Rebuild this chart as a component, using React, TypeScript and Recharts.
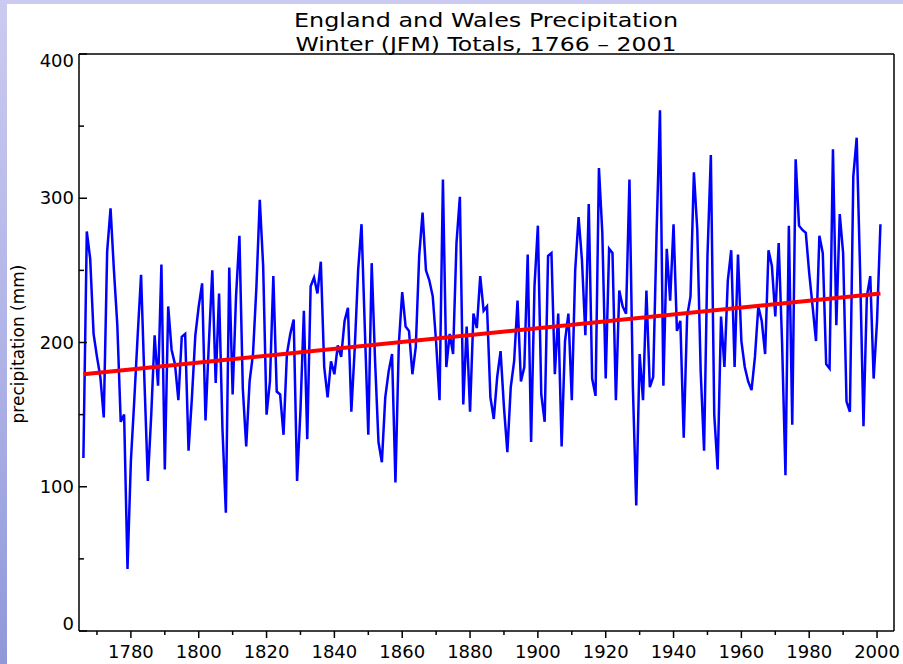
import React from "react";
import { LineChart, Line, XAxis, YAxis } from "recharts";

// England & Wales winter (JFM) precipitation totals, mm, 1766-2001
const firstYear = 1766;
const precip = [
  120, 277, 258, 206, 190, 176, 148, 263, 293, 250, // 1766
  212, 145, 150, 43, 118, 160, 205, 247, 173, 104, // 1776
  150, 205, 170, 254, 112, 225, 195, 185, 160, 204, // 1786
  206, 125, 162, 205, 225, 241, 146, 200, 250, 172, // 1796
  234, 140, 82, 252, 164, 232, 274, 168, 128, 173, // 1806
  192, 238, 299, 253, 150, 173, 246, 166, 164, 136, // 1816
  192, 206, 216, 104, 153, 222, 133, 239, 245, 234, // 1826
  256, 183, 162, 187, 178, 198, 190, 215, 224, 152, // 1836
  196, 250, 282, 208, 136, 255, 187, 131, 117, 162, // 1846
  180, 192, 103, 199, 235, 211, 208, 178, 197, 260, // 1856
  290, 250, 243, 232, 200, 160, 313, 183, 206, 192, // 1866
  269, 301, 157, 211, 152, 220, 210, 246, 222, 225, // 1876
  162, 147, 176, 194, 155, 124, 169, 187, 229, 173, // 1886
  183, 261, 131, 239, 281, 164, 145, 260, 262, 178, // 1896
  220, 128, 201, 220, 160, 250, 287, 257, 205, 296, // 1906
  175, 163, 321, 276, 175, 265, 262, 160, 236, 225, // 1916
  220, 313, 170, 87, 192, 160, 236, 169, 176, 276, // 1926
  361, 170, 265, 229, 282, 208, 215, 134, 218, 232, // 1936
  318, 278, 180, 125, 260, 330, 150, 112, 218, 183, // 1946
  243, 264, 183, 261, 201, 183, 173, 167, 190, 225, // 1956
  215, 192, 264, 253, 218, 269, 200, 108, 281, 143, // 1966
  327, 281, 278, 276, 248, 225, 201, 274, 262, 185, // 1976
  182, 334, 212, 289, 262, 159, 152, 315, 342, 250, // 1986
  142, 232, 246, 175, 215, 282, // 1996
];

// linear trend, end points
const trendYears = [1766, 2001];
const trendValues = [178, 234];

const xTicks = [1770, 1780, 1790, 1800, 1810, 1820, 1830, 1840, 1850, 1860, 1870, 1880, 1890, 1900, 1910, 1920, 1930, 1940, 1950, 1960, 1970, 1980, 1990, 2000];
const yTicks = [0, 50, 100, 150, 200, 250, 300, 350, 400];

const series = precip.map((v, i) => ({ year: firstYear + i, v }));
const trend = trendYears.map((year, i) => ({ year, v: trendValues[i] }));

const FONT = "DejaVu Sans";
const AXIS = { stroke: "#000", strokeWidth: 1.5 };

// custom ticks: x/y come in on the axis line (tickSize and tickMargin are 0)
const BottomTick = (props: any) => {
  const { x, y, payload } = props;
  const major = payload.value % 20 === 0;
  return (
    <g>
      <line x1={x} y1={y} x2={x} y2={y + (major ? 7 : 4)} stroke="#000" strokeWidth={1.5} />
      {major && (
        <text x={x} y={y + 27} textAnchor="middle" fontFamily={FONT} fontSize={18} fill="#000">
          {payload.value}
        </text>
      )}
    </g>
  );
};

const TopTick = (props: any) => {
  const { x, y } = props;
  return <line x1={x} y1={y} x2={x} y2={y - 3} stroke="#000" strokeWidth={1.5} />;
};

const LeftTick = (props: any) => {
  const { x, y, payload } = props;
  const v = payload.value;
  const major = v % 100 === 0;
  const dy = v === 400 ? 7 : v === 0 ? -7 : 0;
  return (
    <g>
      <line x1={x} y1={y} x2={x + (major ? 8 : 5)} y2={y} stroke="#000" strokeWidth={1.5} />
      {major && (
        <text x={x - 5} y={y + dy + 6} textAnchor="end" fontFamily={FONT} fontSize={18} fill="#000">
          {v}
        </text>
      )}
    </g>
  );
};

const RightTick = (props: any) => {
  const { x, y, payload } = props;
  const major = payload.value % 100 === 0;
  return <line x1={x} y1={y} x2={x - (major ? 8 : 5)} y2={y} stroke="#000" strokeWidth={1.5} />;
};

export default function App() {
  return (
    <div
      style={{
        position: "absolute",
        left: 0,
        top: 0,
        width: 903,
        height: 664,
        background: "linear-gradient(180deg, #cbcaf0 0%, #aeb2e6 55%, #9098da 100%)",
        overflow: "hidden",
      }}
    >
      <div style={{ position: "absolute", left: 7, top: 4, right: 0, bottom: 0, background: "#fff" }} />
      <div style={{ position: "absolute", left: 0, top: 0 }}>
        <LineChart width={903} height={664} margin={{ top: 53, right: 8, bottom: 32, left: 78 }}>
          <XAxis
            xAxisId="bottom"
            dataKey="year"
            type="number"
            domain={[1764.7, 2005]}
            ticks={xTicks}
            interval={0}
            height={1}
            tickSize={0}
            tickMargin={0}
            tickLine={false}
            axisLine={AXIS}
            tick={<BottomTick />}
          />
          <XAxis
            xAxisId="top"
            orientation="top"
            dataKey="year"
            type="number"
            domain={[1764.7, 2005]}
            ticks={xTicks}
            interval={0}
            height={1}
            tickSize={0}
            tickMargin={0}
            tickLine={false}
            axisLine={AXIS}
            tick={<TopTick />}
          />
          <YAxis
            yAxisId="left"
            type="number"
            domain={[0, 400]}
            ticks={yTicks}
            interval={0}
            width={1}
            tickSize={0}
            tickMargin={0}
            tickLine={false}
            axisLine={AXIS}
            tick={<LeftTick />}
          />
          <YAxis
            yAxisId="right"
            orientation="right"
            type="number"
            domain={[0, 400]}
            ticks={yTicks}
            interval={0}
            width={1}
            tickSize={0}
            tickMargin={0}
            tickLine={false}
            axisLine={AXIS}
            tick={<RightTick />}
          />
          <Line
            xAxisId="bottom"
            yAxisId="left"
            data={series}
            dataKey="v"
            type="linear"
            stroke="#0000ff"
            strokeWidth={2.5}
            dot={false}
            isAnimationActive={false}
          />
          <Line
            xAxisId="bottom"
            yAxisId="left"
            data={trend}
            dataKey="v"
            type="linear"
            stroke="#ff0000"
            strokeWidth={4}
            dot={false}
            isAnimationActive={false}
          />
        </LineChart>
      </div>
      <svg width={903} height={664} style={{ position: "absolute", left: 0, top: 0, pointerEvents: "none" }}>
        <text
          x={486}
          y={27}
          textAnchor="middle"
          fontFamily={FONT}
          fontSize={20}
          textLength={384}
          lengthAdjust="spacingAndGlyphs"
          fill="#000"
        >
          England and Wales Precipitation
        </text>
        <text
          x={486}
          y={50.5}
          textAnchor="middle"
          fontFamily={FONT}
          fontSize={20}
          textLength={381}
          lengthAdjust="spacingAndGlyphs"
          fill="#000"
        >
          Winter (JFM) Totals, 1766 – 2001
        </text>
        <text
          x={24}
          y={344}
          textAnchor="middle"
          fontFamily={FONT}
          fontSize={17}
          fill="#000"
          transform="rotate(-90 24 344)"
        >
          precipitation (mm)
        </text>
      </svg>
    </div>
  );
}
